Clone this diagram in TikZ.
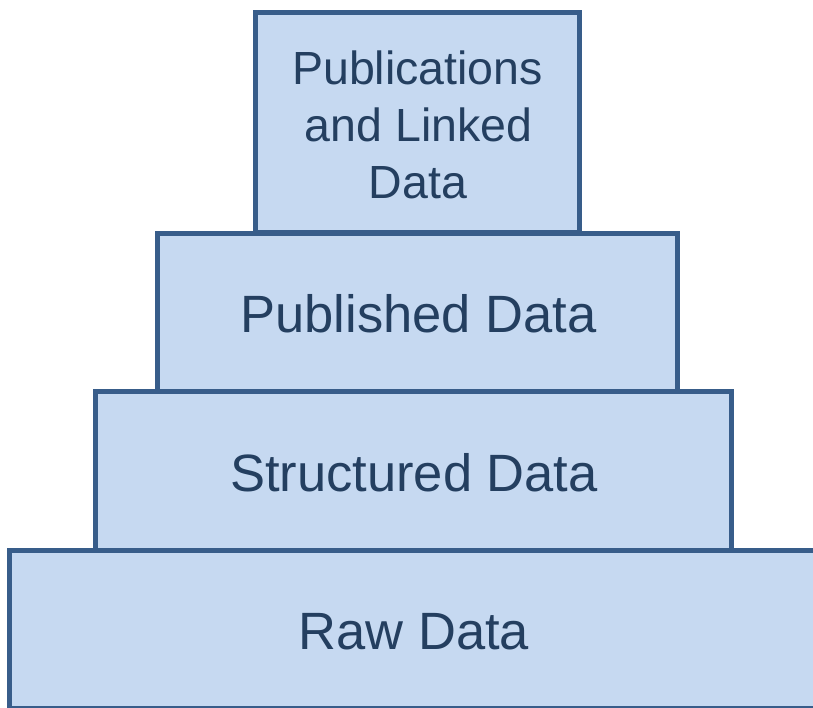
\documentclass[tikz,border=0pt]{standalone}
\usepackage{fontspec}
\setmainfont{Liberation Sans}
\definecolor{boxfill}{HTML}{C6D9F1}
\definecolor{boxline}{HTML}{385D8A}
\definecolor{boxtext}{HTML}{243F60}
\begin{document}
\begin{tikzpicture}[x=1pt,y=-1pt,
  tier/.style={draw=boxline, fill=boxfill, line width=5pt, inner sep=0pt, outer sep=0pt, rectangle, miter limit=10},
  tiertext/.style={text=boxtext, inner sep=0pt, anchor=base, font=\fontsize{52.5}{60}\selectfont},
  toptext/.style={text=boxtext, inner sep=0pt, anchor=base, font=\fontsize{46.5}{57}\selectfont}]
\useasboundingbox (0,0) rectangle (813,707);
\clip (0,0) rectangle (813,707);
\node[tier, minimum width=809.5pt, minimum height=158pt] (raw) at (414.25,629.5) {};
\node[tier, minimum width=636pt, minimum height=159pt] (structured) at (413.5,471) {};
\node[tier, minimum width=520.5pt, minimum height=158.5pt] (published) at (417.25,312.25) {};
\node[tier, minimum width=324pt, minimum height=220pt] (pubs) at (417.5,122.5) {};
\node[tiertext] (rawtxt) at (414,649) {Raw Data};
\node[tiertext] (structtxt) at (414,491) {Structured Data};
\node[tiertext] (pubtxt) at (418.5,332.5) {Published Data};
\node[toptext] (pubs1) at (417.5,84) {Publications};
\node[toptext] (pubs2) at (418.5,141) {and Linked};
\node[toptext] (pubs3) at (418,198) {Data};
\end{tikzpicture}
\end{document}
